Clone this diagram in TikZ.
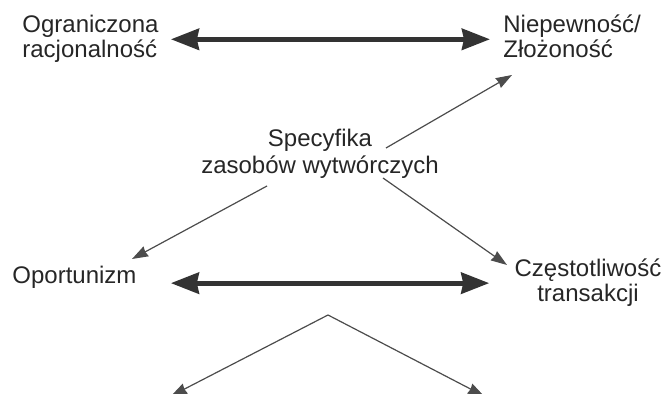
\documentclass[tikz,border=0pt]{standalone}
\usepackage{fontspec}
\setmainfont{Liberation Sans}
\usetikzlibrary{arrows.meta}
\tikzset{
  etykieta/.style={inner sep=0pt,text=black!85,font=\fontsize{12}{12.5}\selectfont},
  gruba/.style={draw=black!80,line width=2.5pt,
    {Stealth[length=14pt,width=10.5pt,inset=1pt]}-{Stealth[length=14pt,width=10.5pt,inset=1pt]}},
  cienka/.style={draw=black!70,line width=0.6pt,-{Stealth[length=8pt,width=5.5pt,inset=0.5pt]}}
}
\begin{document}
\begin{tikzpicture}[x=0.5pt,y=-0.5pt]
  \useasboundingbox (0,0) rectangle (665,394);

  \node[etykieta,align=left,anchor=base west] (ograniczona) at (22,58) {Ograniczona\\racjonalność};
  \node[etykieta,align=left,anchor=base west] (niepewnosc) at (503,58) {Niepewność/\\Złożoność};
  \node[etykieta,align=center,anchor=base,font=\fontsize{12}{13.5}\selectfont] (specyfika) at (320,174) {Specyfika\\zasobów wytwórczych};
  \node[etykieta,anchor=base west] (oportunizm) at (12,284) {Oportunizm};
  \node[etykieta,align=center,anchor=base] (czestotliwosc) at (588,302) {Częstotliwość\\transakcji};

  \coordinate (sp-ne) at (386,148);
  \coordinate (sp-sw) at (267,186);
  \coordinate (sp-se) at (383,178);
  \coordinate (ni-sw) at (512,75);
  \coordinate (op-ne) at (132,259);
  \coordinate (cz-nw) at (507,265);
  \coordinate (szczyt) at (328,315);
  \coordinate (dol-l) at (171,396);
  \coordinate (dol-p) at (484,396);

  \draw[gruba,shorten <=6pt,shorten >=6.5pt] (ograniczona.east) -- (ograniczona.east -| niepewnosc.west);
  \draw[gruba,shorten <=17pt,shorten >=12.5pt] (czestotliwosc.west -| oportunizm.east) -- (czestotliwosc.west);

  \draw[cienka] (sp-ne) -- (ni-sw);
  \draw[cienka] (sp-sw) -- (op-ne);
  \draw[cienka] (sp-se) -- (cz-nw);
  \draw[cienka] (szczyt) -- (dol-l);
  \draw[cienka] (szczyt) -- (dol-p);
\end{tikzpicture}
\end{document}
